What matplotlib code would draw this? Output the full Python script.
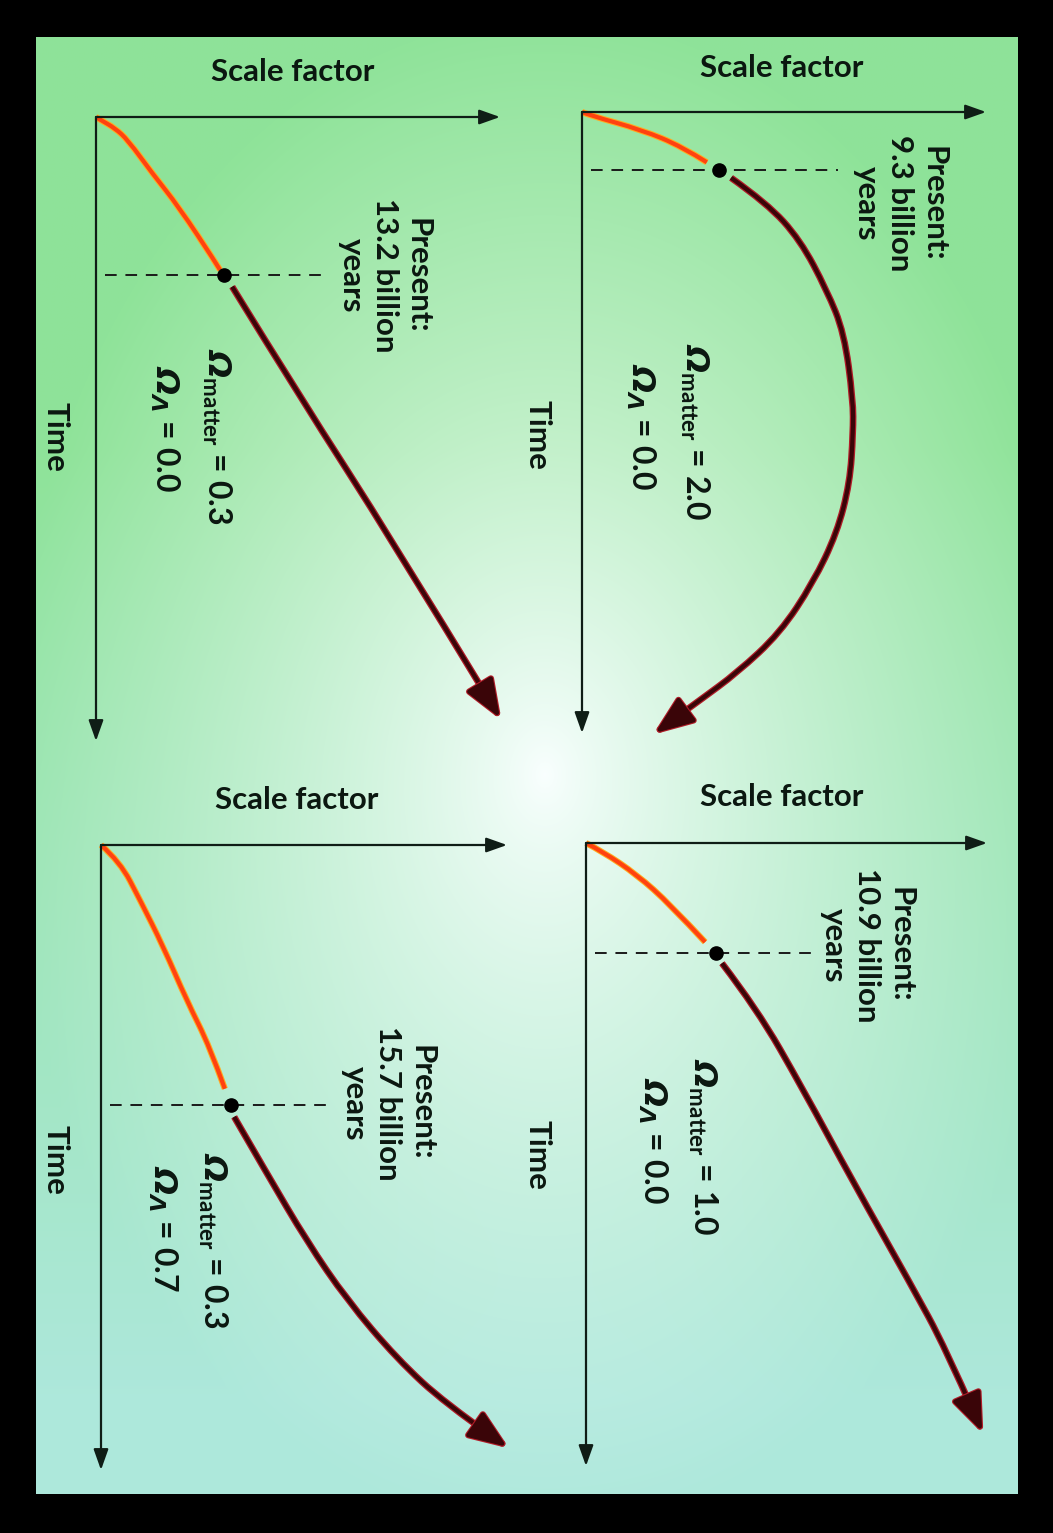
import numpy as np
import matplotlib
matplotlib.use('Agg')
import matplotlib.pyplot as plt
import matplotlib.patheffects as pe
from matplotlib.path import Path
from matplotlib.patches import PathPatch

# ---- values ----------------------------------------------------------------
# panel order: top-left, top-right, bottom-left, bottom-right
omega_matter = [0.3, 2.0, 0.3, 1.0]
omega_lambda = [0.0, 0.0, 0.7, 0.0]
present_age = [13.2, 9.3, 15.7, 10.9]   # billion years

# curves in panel units: x = scale factor (0..1 = arrow tip), y = time (0..1, downwards)
tl_past_x = [0.0, 0.012, 0.047, 0.079, 0.139, 0.205, 0.297, 0.307]
tl_past_y = [0.0, 0.005, 0.018, 0.037, 0.090, 0.144, 0.234, 0.245]
tl_future_x = [0.337, 0.510, 0.728, 1.0]
tl_future_y = [0.272, 0.454, 0.673, 0.963]
tl_now = (0.317, 0.253)

tr_past_x = [0.0, 0.017, 0.149, 0.248, 0.309]
tr_past_y = [0.0, 0.005, 0.029, 0.056, 0.081]
tr_future_x = [0.369, 0.458, 0.540, 0.606, 0.649, 0.671, 0.671, 0.663, 0.631,
               0.572, 0.490, 0.384, 0.292, 0.235, 0.181]
tr_future_y = [0.106, 0.147, 0.206, 0.287, 0.356, 0.464, 0.517, 0.597, 0.678,
               0.758, 0.839, 0.903, 0.947, 0.974, 1.0]
tr_now = (0.339, 0.093)

bl_past_x = [0.0, 0.047, 0.096, 0.153, 0.212, 0.268, 0.305]
bl_past_y = [0.0, 0.027, 0.088, 0.162, 0.250, 0.323, 0.390]
bl_future_x = [0.328, 0.409, 0.507, 0.606, 0.729, 0.852, 1.0]
bl_future_y = [0.435, 0.526, 0.634, 0.728, 0.822, 0.896, 0.963]
bl_now = (0.320, 0.416)

br_past_x = [0.0, 0.042, 0.127, 0.209, 0.297]
br_past_y = [0.0, 0.014, 0.051, 0.098, 0.159]
br_future_x = [0.339, 0.426, 0.541, 0.666, 0.808, 0.900, 0.988]
br_future_y = [0.193, 0.266, 0.395, 0.544, 0.706, 0.815, 0.945]
br_now = (0.324, 0.177)

past_x = [tl_past_x, tr_past_x, bl_past_x, br_past_x]
past_y = [tl_past_y, tr_past_y, bl_past_y, br_past_y]
future_x = [tl_future_x, tr_future_x, bl_future_x, br_future_x]
future_y = [tl_future_y, tr_future_y, bl_future_y, br_future_y]
now = [tl_now, tr_now, bl_now, br_now]
dash_end = [0.557, 0.634, 0.557, 0.571]

# ---- layout (pixels) --------------------------------------------------------
W, H = 1053, 1533
panels = [(96, 117, 404, 624), (582, 112, 404, 621),
          (101, 845, 406, 625), (586, 843, 401, 623)]
present_pos = [(0.715, 0.254), (0.787, 0.147), (0.707, 0.413), (0.701, 0.164)]
om_pos = [(0.300, 0.370), (0.280, 0.372), (0.274, 0.491), (0.290, 0.345)]
ol_pos = [(0.170, 0.397), (0.145, 0.404), (0.152, 0.512), (0.166, 0.376)]
time_pos = [(-0.101, 0.513), (-0.109, 0.520), (-0.113, 0.504), (-0.120, 0.501)]
scale_pos = [(0.488, -0.072), (0.495, -0.071), (0.483, -0.072), (0.489, -0.074)]

plt.rcParams['mathtext.fontset'] = 'custom'
plt.rcParams['mathtext.rm'] = 'DejaVu Sans:italic:bold'
plt.rcParams['mathtext.it'] = 'DejaVu Sans:italic:bold'
plt.rcParams['mathtext.sf'] = 'Lato:bold'
plt.rcParams['mathtext.bf'] = 'Lato:bold'

txt_col = '#0b1710'
axis_col = '#0f1d16'
past_col = '#ff4210'
future_col = '#3a0508'


def smooth_path(xs, ys, sx=1.0, sy=1.0, cut=0.0):
    # quadratic B-spline through the read points (points act as control points);
    # 'cut' pixels are trimmed off the end so an arrow head can sit there
    pts = np.column_stack([xs, ys]) * [sx, sy]
    if len(pts) < 3:
        pts = np.vstack([pts[0], pts.mean(axis=0), pts[-1]])
    segs = []
    start = pts[0]
    for k in range(1, len(pts) - 2):
        end = (pts[k] + pts[k + 1]) / 2
        segs.append((start, pts[k], end))
        start = end
    segs.append((start, pts[-2], pts[-1]))
    if cut > 0:
        a, b, c = segs[-1]
        for tt in np.linspace(1, 0, 200):
            q = (1 - tt) ** 2 * a + 2 * (1 - tt) * tt * b + tt ** 2 * c
            if np.hypot(*(q - c)) >= cut:
                break
        segs[-1] = (a, a + (b - a) * tt, q)
    verts = [segs[0][0]]
    codes = [Path.MOVETO]
    for a, b, c in segs:
        verts += [b, c]
        codes += [Path.CURVE3, Path.CURVE3]
    verts = np.array(verts) / [sx, sy]
    return Path(verts, codes)


fig = plt.figure(figsize=(W / 100, H / 100), dpi=100, facecolor='black')

# background: green with a white glow in the middle
bg = fig.add_axes([0, 0, 1, 1])
bg.set_xlim(0, W)
bg.set_ylim(H, 0)
bg.axis('off')
gx, gy = np.meshgrid(np.linspace(36, 1018, 300), np.linspace(37, 1494, 450))
d = np.sqrt(((gx - 545) / 540) ** 2 + ((gy - 775) / 760) ** 2)
w = np.clip(d, 0, 1) ** 0.8
t = np.clip((gy - 450) / 950, 0, 1)[..., None]
green = np.array([0.56, 0.89, 0.60])
cyan = np.array([0.68, 0.91, 0.86])
white = np.array([0.98, 1.0, 1.0])
edge = green * (1 - t) + cyan * t
img = white * (1 - w[..., None]) + edge * w[..., None]
bg.imshow(img, extent=(36, 1018, 1494, 37), aspect='auto', interpolation='bilinear')

for i, (cx, cy, pw, ph) in enumerate(panels):
    ax = fig.add_axes([cx / W, 1 - (cy + ph) / H, pw / W, ph / H])
    ax.set_xlim(0, 1)
    ax.set_ylim(1, 0)
    ax.axis('off')

    # axes arrows
    for tip in [(1, 0), (0, 1)]:
        ax.annotate('', xy=tip, xytext=(0, 0), annotation_clip=False,
                    arrowprops=dict(arrowstyle='-|>,head_length=0.9,head_width=0.32',
                                    mutation_scale=14, lw=1.6, color=axis_col,
                                    shrinkA=0, shrinkB=0))

    # dashed "present" line
    nx, ny = now[i]
    ax.plot([0.022, dash_end[i]], [ny, ny], color='#1a1a1a', lw=1.4,
            dashes=(6, 4.5), clip_on=False)

    # past (orange)
    ax.add_patch(PathPatch(smooth_path(past_x[i], past_y[i]), fill=False,
                           edgecolor=past_col, lw=3.0, capstyle='butt', clip_on=False,
                           path_effects=[pe.Stroke(linewidth=4.5, foreground='#ffaa20'),
                                         pe.Normal()]))

    # future (dark red) with arrow head
    fx, fy = future_x[i], future_y[i]
    fpath = smooth_path(fx, fy, pw, ph, cut=16)
    ax.add_patch(PathPatch(fpath, fill=False,
                           edgecolor=future_col, lw=3.0, capstyle='butt', clip_on=False,
                           path_effects=[pe.Stroke(linewidth=4.8, foreground='#b01c28'),
                                         pe.Normal()]))
    ax.annotate('', xy=(fx[-1], fy[-1]), xytext=tuple(fpath.vertices[-1]),
                annotation_clip=False,
                arrowprops=dict(arrowstyle='-|>,head_length=0.98,head_width=0.38',
                                mutation_scale=24, lw=3.0, color=future_col,
                                shrinkA=0, shrinkB=0,
                                path_effects=[pe.Stroke(linewidth=4.6, foreground='#b01c28'),
                                              pe.Normal()]))

    ax.plot([nx], [ny], 'o', ms=9.5, color='black', zorder=6, clip_on=False)

    # labels
    ax.text(*scale_pos[i], 'Scale factor', ha='center', va='center', fontsize=22.5,
            family='Lato', fontweight='bold', color=txt_col)
    ax.text(*time_pos[i], 'Time', rotation=-90, ha='center', va='center', fontsize=22.5,
            family='Lato', fontweight='bold', color=txt_col)
    ax.text(*present_pos[i], 'Present:\n%.1f billion\nyears' % present_age[i],
            rotation=-90, ha='center', va='center', fontsize=22.5, family='Lato',
            fontweight='bold', color=txt_col, linespacing=1.22)
    ax.text(*om_pos[i], r'$\Omega_{\mathsf{matter}}$ = %.1f' % omega_matter[i],
            rotation=-90, ha='center', va='top', fontsize=23, family='Lato',
            fontweight='bold', color=txt_col)
    ax.text(*ol_pos[i], r'$\Omega_{\Lambda}$ = %.1f' % omega_lambda[i],
            rotation=-90, ha='center', va='top', fontsize=23, family='Lato',
            fontweight='bold', color=txt_col)

fig.savefig('out.png', dpi=100, facecolor='black')
